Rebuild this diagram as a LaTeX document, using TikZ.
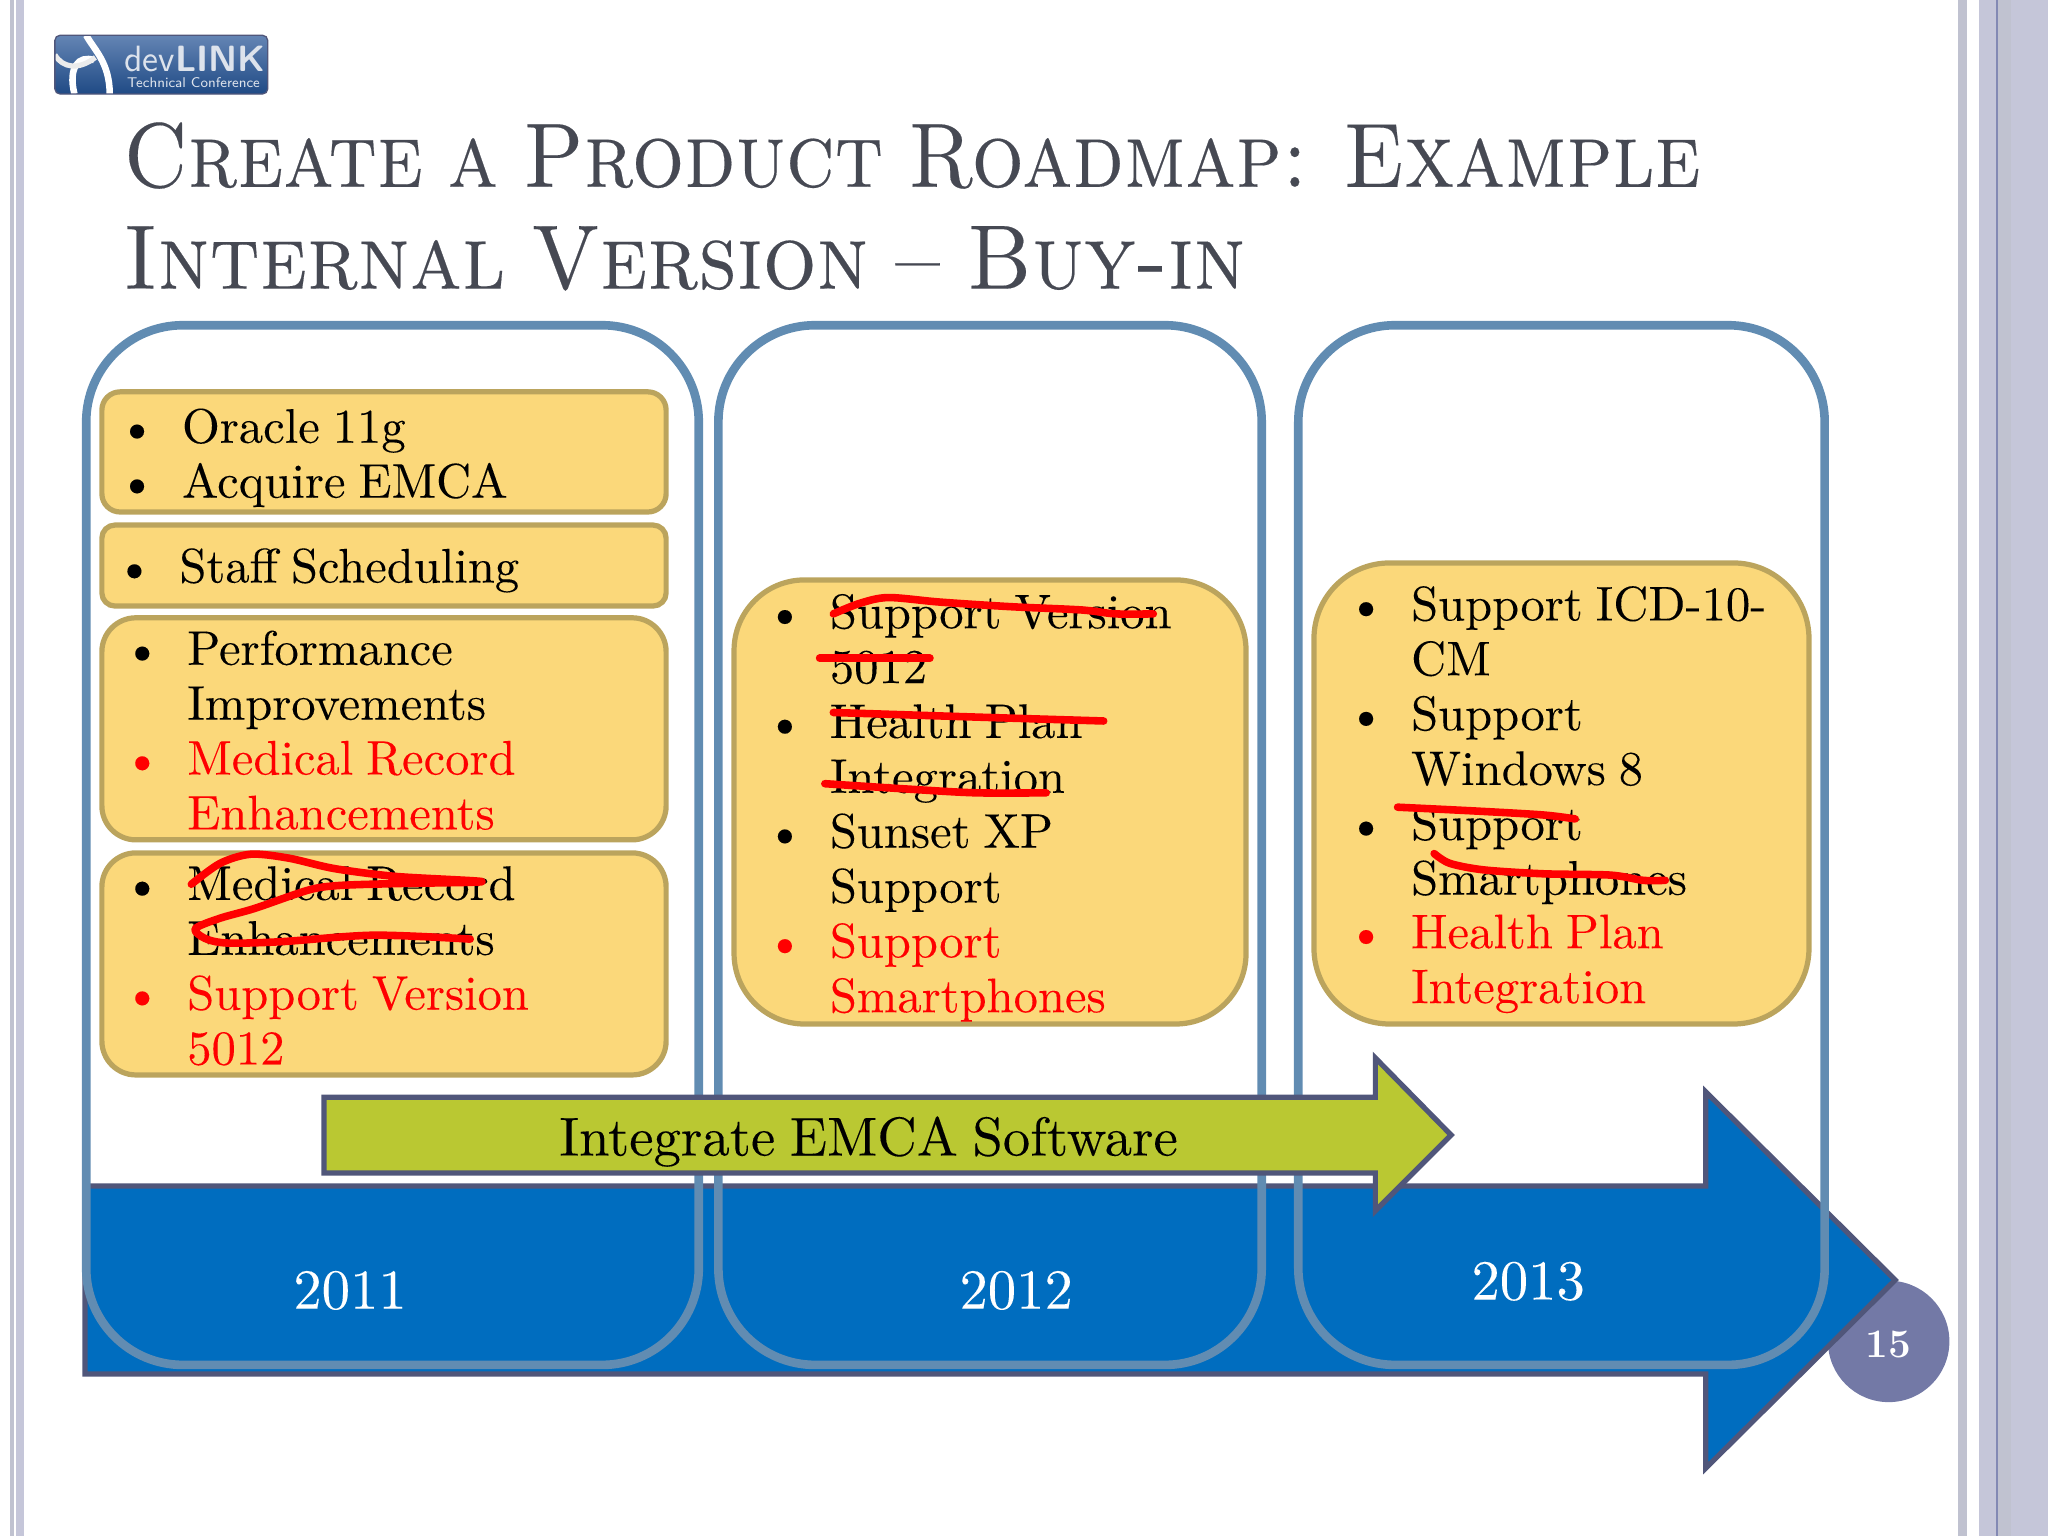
\documentclass[tikz,border=0pt]{standalone}
\usepackage{fontspec}
\usetikzlibrary{calc}

\newfontfamily\bodyfont{lmroman10-regular}[Extension=.otf, FakeBold=0.1, WordSpace=0.8]
\newfontfamily\capsfont{lmromancaps10-regular}[Extension=.otf, FakeStretch=0.9, FakeBold=0.2, WordSpace=0.8]

\definecolor{barlight}{HTML}{C0C2D0}
\definecolor{barlav}{HTML}{C5C6D9}
\definecolor{barline}{HTML}{8389B4}
\definecolor{framecol}{HTML}{618CB2}
\definecolor{boxfill}{HTML}{FBD87A}
\definecolor{boxedge}{HTML}{BBA45D}
\definecolor{roadblue}{HTML}{006DBF}
\definecolor{roadedge}{HTML}{50567A}
\definecolor{softgreen}{HTML}{BAC832}
\definecolor{titlecol}{HTML}{464953}
\definecolor{pagecol}{HTML}{7379A6}
\definecolor{logotop}{HTML}{6485B4}
\definecolor{logomid}{HTML}{2F5B97}
\definecolor{logobot}{HTML}{1F4A85}
\definecolor{logotxt}{HTML}{DDE3EC}

\newcommand{\bul}{\makebox[0pt][r]{\textbullet\hspace{10pt}}}

\tikzset{
  frame/.style={draw=framecol, line width=3.3pt},
  notebox/.style={draw=boxedge, fill=boxfill, line width=2pt},
  road/.style={draw=roadedge, line width=2pt, line join=miter},
  item/.style={anchor=base west, inner sep=0pt, xshift=-0.5pt, yshift=-0.5pt, font=\bodyfont\fontsize{18.6pt}{21pt}\selectfont},
  year/.style={text=white, inner sep=0pt, font=\bodyfont\fontsize{21.7pt}{25pt}\selectfont},
  headline/.style={anchor=base west, inner sep=0pt, text=titlecol, font=\capsfont\fontsize{35pt}{42pt}\selectfont},
  strike/.style={red, line width=2.9pt, line cap=round, line join=round}
}

\begin{document}
\begin{tikzpicture}[x=0.5pt, y=-0.5pt]
  \useasboundingbox (0,0) rectangle (1568,1176);
  % side bars
  \fill[barlight] (8,0) rectangle (11,1176);
  \fill[barlav] (12,0) rectangle (18,1176);
  \fill[barlight] (1499,0) rectangle (1506,1176);
  \fill[barlav] (1515,0) rectangle (1568,1176);
  \fill[barlight] (1529,0) rectangle (1540,1176);
  \fill[barline] (1528,0) rectangle (1530,1176);

  % logo
  \begin{scope}
    \clip[rounded corners=2pt] (42,27) rectangle (205,72);
    \shade[top color=logotop, middle color=logomid, bottom color=logobot] (42,27) rectangle (205,72);
    \draw[white, line width=2.5pt] (66,27) .. controls (72,38) and (84,48) .. (84,72);
    \draw[white, line width=2.5pt] (57,72) .. controls (52,52) and (60,42) .. (72,46);
    \draw[white!85!gray, line width=2pt] (42,42) .. controls (48,52) and (60,54) .. (73,44);
  \end{scope}
  \draw[roadedge, line width=0.5pt, rounded corners=2pt] (42,27) rectangle (205,72);
  \node[anchor=base west, inner sep=0pt, text=logotxt, font=\sffamily\fontsize{14pt}{18pt}\selectfont] (logotext) at (95,55) {dev\textbf{LINK}};
  \node[anchor=base west, inner sep=0pt, text=logotxt, font=\sffamily\fontsize{5.4pt}{7pt}\selectfont] (logosub) at (97,67) {Technical Conference};

  % title
  \node[headline] (title1) at (94,143) {Create a Product Roadmap: Example};
  \node[headline] (title2) at (94,221) {\scalebox{1.03}[1]{Internal Version – Buy-in}};

  % page number goes under the arrow
  \fill[pagecol] (1446,1027) circle (23.25pt);
  \node[text=white, inner sep=0pt, font=\bfseries\fontsize{15.5pt}{18pt}\selectfont] (pagenum) at (1446,1029) {15};

  % time line
  \draw[road, fill=roadblue] (65,908) -- (1306,908) -- (1306,836) -- (1451,980) -- (1306,1124) -- (1306,1052) -- (65,1052) -- cycle;
  \node[year] (y2011) at (268,988) {2011};
  \node[year] (y2012) at (778,988) {2012};
  \node[year] (y2013) at (1170,981) {2013};

  % year frames
  \draw[frame, rounded corners=37pt] (66,249) rectangle (535,1045);
  \draw[frame, rounded corners=37pt] (550,249) rectangle (966,1045);
  \draw[frame, rounded corners=37pt] (994,249) rectangle (1397,1045);

  % note boxes
  \draw[notebox, rounded corners=7pt] (78,300) rectangle (510,392);
  \draw[notebox, rounded corners=5pt] (78,402) rectangle (510,464);
  \draw[notebox, rounded corners=13pt] (78,473) rectangle (510,643);
  \draw[notebox, rounded corners=13pt] (78,653) rectangle (510,823);
  \draw[notebox, rounded corners=27pt] (562,444) rectangle (954,784);
  \draw[notebox, rounded corners=29pt] (1006,431) rectangle (1385,784);

  \foreach \n/\x/\y/\t/\c in {
      a1/140/338/\bul Oracle 11g/black, a2/140/380/\bul Acquire EMCA/black,
      b1/138/445/\bul Staff Scheduling/black,
      c1/144/508/\bul Performance/black, c2/144/550/Improvements/black,
      c3/144/592/\bul Medical Record/red, c4/144/634/Enhancements/red,
      d1/144/688/\bul Medical Record/black, d2/144/730/Enhancements/black,
      d3/144/772/\bul Support Version/red, d4/144/814/5012/red,
      e1/636/480/\bul Support Version/black, e2/636/522/5012/black,
      e3/636/564/\bul Health Plan/black, e4/636/606/Integration/black,
      e5/636/648/\bul Sunset XP/black, e6/636/690/Support/black,
      e7/636/732/\bul Support/red, e8/636/774/Smartphones/red,
      f1/1081/474/\bul Support ICD-10-/black, f2/1081/516/CM/black,
      f3/1081/558/\bul Support/black, f4/1081/600/Windows 8/black,
      f5/1081/642/\bul Support/black, f6/1081/684/Smartphones/black,
      f7/1081/725/\bul Health Plan/red, f8/1081/767/Integration/red}
    \node[item, text=\c] (\n) at (\x,\y) {\t};

  % crossings out
  \draw[strike] plot[smooth, tension=0.5] coordinates {(146.5,677) (168.5,661) (192,654) (221,657) (256,665) (303,671) (369,675) (303,676.5) (259,678) (236,681.5) (195,695.5) (168.5,703) (149.5,711) (157,718.5) (174,722) (215,721) (286,716) (360,719)};
  \draw[strike] plot[smooth, tension=0.5] coordinates {(638,470) (658,462) (680,457.5) (720,461) (774,464.5) (828,467) (854,470) (883,470)};
  \draw[strike] (627.5,504) -- (712,504);
  \draw[strike] plot[smooth] coordinates {(638,545.5) (747,549) (845,552)};
  \draw[strike] plot[smooth] coordinates {(631.5,600) (693,604) (747,607) (801,607)};
  \draw[strike] plot[smooth] coordinates {(1070,618) (1131,621) (1182,624) (1206,627)};
  \draw[strike] plot[smooth, tension=0.5] coordinates {(1098,653.5) (1110,661) (1136,666) (1182,669) (1233,670) (1258,674) (1275,674)};

  % software arrow
  \draw[road, fill=softgreen] (248,840) -- (1053,840) -- (1053,810) -- (1111,869) -- (1053,927) -- (1053,898) -- (248,898) -- cycle;
  \node[inner sep=0pt, font=\bodyfont\fontsize{20.95pt}{24pt}\selectfont] (softlabel) at (665,874) {Integrate EMCA Software};
\end{tikzpicture}
\end{document}
